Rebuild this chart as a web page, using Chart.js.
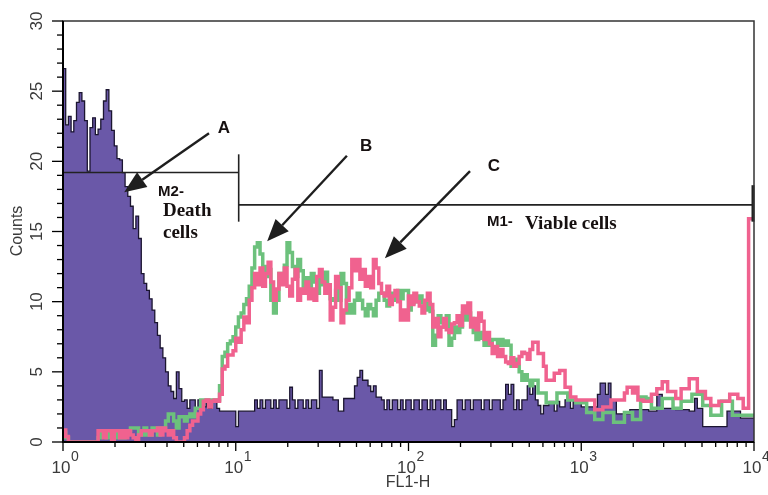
<!DOCTYPE html>
<html>
<head>
<meta charset="utf-8">
<script src="https://cdn.jsdelivr.net/npm/chart.js@4.4.1/dist/chart.umd.min.js"></script>
<style>
    html, body { margin: 0; padding: 0; background: #fff; }
    #wrap { width: 768px; height: 495px; }
</style>
</head>
<body>
<div id="wrap"><canvas id="flow-chart" width="768" height="495"></canvas></div>
<script>
// FL1-H histogram: 256 channels spread over 4 log decades
var channel_count = 256;
var x_ticks = [1, 10, 100, 1000, 10000];
var x_tick_exponents = ['0', '1', '2', '3', '4'];
var y_ticks = [0, 5, 10, 15, 20, 25, 30];

// purple filled histogram (arrow A)
var counts_a = [
    31, 26.6, 22.6, 23.2, 22.1, 22.9, 24.2, 24.9, 24.3, 22.9, 19.3, 22.4, 23.1, 21.9, 22.3, 23.0,
    24.3, 25.1, 23.6, 22.2, 21.1, 20.2, 20.1, 19.2, 18.2, 17.5, 16.8, 15.2, 16.1, 14.5, 12.0, 11.3,
    10.8, 10.2, 9.4, 8.5, 7.6, 6.7, 6.0, 5.0, 4.0, 3.6, 3.1, 5.0, 3.8, 2.9, 3.0, 2.4,
    3.0, 3.0, 2.4, 3.0, 3.0, 2.5, 3.0, 2.4, 3.0, 3.0, 2.4, 2.2, 2.2, 2.2, 2.2, 2.2,
    2.2, 1.1, 2.2, 2.2, 2.2, 2.2, 2.2, 2.2, 3.0, 2.4, 3.0, 2.4, 3.0, 3.0, 2.4, 3.0,
    2.4, 3.0, 3.0, 3.0, 2.4, 3.9, 3.0, 2.4, 3.0, 3.0, 2.4, 3.0, 2.4, 3.0, 3.0, 2.4,
    5.1, 3.2, 3.2, 3.2, 3.2, 3.0, 3.0, 2.2, 2.2, 3.1, 3.1, 3.1, 3.1, 4.0, 4.6, 5.1,
    4.4, 4.4, 4.0, 3.6, 4.0, 3.2, 3.2, 3.0, 2.3, 3.0, 2.3, 3.0, 3.0, 2.3, 3.0, 2.3,
    3.0, 3.0, 2.3, 3.0, 3.0, 2.3, 3.0, 3.0, 2.3, 3.0, 2.3, 3.0, 3.0, 2.3, 3.0, 2.3,
    2.3, 1.1, 1.6, 3.0, 3.0, 2.3, 3.0, 3.0, 2.3, 3.0, 3.0, 3.0, 2.3, 3.0, 3.0, 2.3,
    3.0, 3.0, 3.0, 2.3, 3.0, 4.1, 3.4, 4.1, 2.3, 3.0, 2.3, 3.0, 3.0, 4.0, 3.4, 4.0,
    3.0, 2.6, 2.0, 2.6, 2.6, 2.9, 2.9, 2.2, 2.9, 2.5, 2.5, 3.0, 3.0, 2.4, 3.0, 3.0,
    3.0, 2.5, 2.5, 2.5, 2.5, 2.5, 2.5, 3.4, 4.2, 4.2, 3.4, 4.2, 3.0, 3.0, 2.0, 2.0,
    2.0, 2.0, 2.0, 2.3, 2.3, 2.3, 2.3, 2.3, 2.3, 2.3, 2.2, 2.2, 2.2, 3.4, 3.4, 2.4,
    2.4, 2.4, 2.4, 2.4, 2.3, 2.3, 2.3, 2.3, 2.3, 2.2, 2.2, 3.1, 2.4, 2.4, 1.1, 1.1,
    1.1, 1.1, 1.1, 1.1, 1.1, 1.1, 1.1, 2.2, 2.2, 2.2, 2.2, 2.2, 1.7, 1.7, 1.7, 1.7
];

// green outline (arrow B)
var counts_b = [
    0.7, 0.7, 0.3, 0, 0, 0, 0, 0, 0, 0, 0, 0, 0, 0, 0.3, 0.8,
    0.8, 0.3, 0.8, 0.8, 0.3, 0.8, 0.3, 0.3, 0.8, 0.8, 1.0, 1.0, 1.0, 0.5, 0.5, 1.0,
    0.5, 0.5, 1.0, 1.0, 0.5, 1.0, 1.0, 1.5, 2.0, 2.0, 1.5, 1.0, 1.8, 1.8, 1.5, 1.8,
    2.0, 1.8, 2.4, 2.4, 3.0, 3.0, 3.0, 2.6, 3.0, 3.0, 3.0, 4.0, 6.1, 6.4, 7.0, 7.2,
    7.5, 8.2, 8.9, 9.2, 9.8, 10.2, 11.1, 12.4, 13.9, 14.2, 13.4, 12.5, 11.8, 12.3, 10.1, 9.2,
    10.1, 12.0, 11.3, 12.6, 14.2, 13.5, 12.5, 11.8, 13.0, 12.2, 11.1, 11.7, 10.6, 12.0, 11.4, 10.6,
    11.8, 11.2, 12.1, 10.8, 10.2, 10.1, 10.8, 10.1, 12.0, 11.3, 9.2, 9.8, 9.2, 10.1, 10.6, 10.1,
    9.5, 9.0, 9.8, 9.5, 9.0, 10.1, 10.6, 10.6, 10.1, 9.7, 10.6, 10.1, 10.5, 10.8, 10.2, 10.8,
    10.8, 9.4, 9.9, 10.4, 10.0, 10.4, 9.9, 9.4, 9.9, 9.3, 6.9, 7.6, 9.0, 8.5, 8.2, 9.0,
    6.9, 7.4, 8.2, 7.8, 8.2, 9.2, 8.7, 9.2, 8.8, 7.8, 7.3, 7.8, 7.4, 6.9, 7.3, 6.9,
    7.3, 7.3, 6.9, 7.3, 6.9, 7.2, 6.9, 5.4, 5.9, 5.4, 5.0, 4.4, 4.8, 4.4, 4.0, 4.4,
    4.4, 3.5, 3.5, 3.5, 2.8, 2.8, 2.8, 2.8, 3.5, 3.5, 3.5, 3.5, 3.0, 3.0, 3.0, 2.8,
    2.8, 2.8, 2.8, 2.1, 2.1, 2.1, 1.6, 1.6, 1.6, 2.1, 2.1, 2.1, 2.1, 1.4, 1.4, 1.4,
    1.4, 2.1, 2.1, 2.1, 1.6, 1.6, 1.6, 3.2, 3.2, 3.1, 3.1, 2.4, 2.4, 2.4, 2.4, 3.1,
    3.1, 3.1, 3.1, 2.4, 2.4, 2.4, 2.9, 2.9, 2.9, 2.9, 3.4, 3.4, 3.4, 3.4, 2.6, 2.6,
    2.6, 1.9, 1.9, 1.9, 1.9, 2.9, 2.9, 2.9, 2.9, 1.9, 1.9, 1.9, 1.9, 1.9, 1.9, 1.9
];

// pink outline (arrow C)
var counts_c = [
    0.85, 0.85, 0.4, 0, 0, 0, 0, 0, 0, 0, 0, 0, 0, 0, 0.8, 0.8,
    0.3, 0.8, 0.8, 0, 0.8, 0.8, 0.3, 0.8, 0.3, 0.8, 0.5, 0.3, 0, 0.5, 0.8, 0.8,
    0.8, 0.5, 0.8, 0.8, 1.0, 0.5, 1.0, 0.8, 0.5, 0.8, 0.3, 0, 0, 0, 0.3, 0.8,
    1.2, 1.5, 1.5, 2.0, 2.3, 2.9, 3.0, 2.5, 2.9, 3.0, 2.9, 3.4, 5.2, 5.4, 6.2, 6.2,
    6.5, 7.4, 7.1, 8.0, 8.9, 8.5, 10.1, 11.0, 12.0, 11.2, 12.4, 11.1, 12.0, 12.8, 11.4, 10.1,
    10.9, 12.0, 11.2, 12.4, 11.1, 10.4, 11.6, 12.3, 10.1, 10.9, 10.6, 11.4, 10.2, 10.9, 10.1, 11.8,
    12.3, 11.4, 10.6, 11.2, 8.7, 9.6, 11.8, 11.0, 8.5, 9.4, 10.1, 11.0, 13.0, 12.2, 13.0, 11.6,
    12.3, 11.1, 11.8, 11.0, 13.0, 12.4, 11.3, 10.6, 10.4, 11.1, 9.8, 10.4, 10.8, 10.0, 8.7, 9.4,
    8.7, 10.4, 9.8, 10.6, 10.0, 9.7, 9.2, 10.1, 10.6, 9.8, 8.2, 8.8, 7.5, 8.2, 8.8, 8.0,
    7.8, 8.4, 8.5, 9.0, 8.3, 9.7, 9.2, 9.9, 8.2, 8.8, 8.0, 9.2, 8.6, 7.3, 7.8, 7.0,
    6.3, 6.8, 6.1, 6.6, 6.1, 5.7, 5.6, 6.0, 5.4, 5.6, 6.1, 6.4, 6.3, 5.9, 6.6, 7.1,
    7.1, 6.3, 6.3, 5.4, 4.4, 4.4, 4.4, 4.9, 4.9, 5.1, 5.1, 3.9, 3.9, 3.2, 3.2, 3.0,
    3.0, 3.0, 3.0, 3.0, 3.0, 3.0, 2.3, 2.3, 2.3, 2.5, 2.5, 2.5, 3.0, 3.0, 3.0, 3.0,
    3.0, 3.5, 3.9, 3.9, 3.5, 3.9, 3.0, 3.0, 2.9, 2.9, 2.9, 3.4, 3.4, 3.8, 3.8, 4.3,
    4.3, 3.6, 3.6, 3.6, 3.1, 3.1, 3.8, 3.8, 3.8, 4.5, 4.5, 4.5, 3.6, 3.6, 3.6, 3.1,
    3.1, 2.6, 2.6, 2.6, 2.9, 2.9, 2.9, 2.9, 3.4, 3.4, 3.4, 3.1, 3.1, 2.4, 2.4, 15.9
];

// marker gates and labels, in data units (x = FL1-H, y = counts)
var gate_m2 = { x_from: 1, x_to: 10.4, y: 19.2, bar_top: 20.5, bar_bottom: 15.7 };
var gate_m1 = { x_from: 10.4, x_to: 10000, y: 16.9, bar_top: 18.3, bar_bottom: 15.7 };

var arrows = [
    { tail: [7.0, 22.0], tip: [2.26, 17.8] },
    { tail: [44, 20.4], tip: [15.2, 14.3] },
    { tail: [227, 19.3], tip: [73, 13.1] }
];

var labels_sans = 'bold 17px "Liberation Sans", Arial, sans-serif';
var labels_serif = 'bold 19px "Liberation Serif", "Times New Roman", serif';
var labels_small = 'bold 15px "Liberation Sans", Arial, sans-serif';

var notes = [
    { text: 'A', x: 8.55, y: 22.0, font: labels_sans, align: 'center' },
    { text: 'B', x: 56.8, y: 20.71, font: labels_sans, align: 'center' },
    { text: 'C', x: 312.6, y: 19.29, font: labels_sans, align: 'center' },
    { text: 'M2-', x: 3.55, y: 17.5, font: labels_small, align: 'left' },
    { text: 'Death', x: 3.79, y: 16.07, font: labels_serif, align: 'left' },
    { text: 'cells', x: 3.79, y: 14.57, font: labels_serif, align: 'left' },
    { text: 'M1-', x: 284.7, y: 15.36, font: labels_small, align: 'left' },
    { text: 'Viable cells', x: 472.6, y: 15.21, font: labels_serif, align: 'left' }
];

function channel_edge(i)
{
    return Math.pow(10, 4 * i / channel_count);
}

function to_steps(values)
{
    var pts = [];
    for (var i = 0; i < values.length; i++) pts.push({ x: channel_edge(i), y: values[i] });
    pts.push({ x: channel_edge(values.length), y: values[values.length - 1] });
    return pts;
}

function seg(ctx, x1, y1, x2, y2)
{
    ctx.beginPath();
    ctx.moveTo(x1, y1);
    ctx.lineTo(x2, y2);
    ctx.stroke();
}

var decorations = {
    id: 'decorations',
    afterDatasetsDraw: function (chart)
    {
        var ctx = chart.ctx;
        var a = chart.chartArea;
        var xs = chart.scales.x;
        var ys = chart.scales.y;
        var px = function (v) { return xs.getPixelForValue(v); };
        var py = function (v) { return ys.getPixelForValue(v); };
        ctx.save();

        // gates
        ctx.strokeStyle = '#222';
        ctx.lineWidth = 1.6;
        seg(ctx, px(gate_m2.x_from), py(gate_m2.y), px(gate_m2.x_to), py(gate_m2.y));
        seg(ctx, px(gate_m2.x_to), py(gate_m2.bar_top), px(gate_m2.x_to), py(gate_m2.bar_bottom));
        seg(ctx, px(gate_m1.x_from), py(gate_m1.y), px(gate_m1.x_to), py(gate_m1.y));
        ctx.lineWidth = 3;
        seg(ctx, px(gate_m1.x_to) - 1, py(gate_m1.bar_top), px(gate_m1.x_to) - 1, py(gate_m1.bar_bottom));

        // frame
        ctx.strokeStyle = '#333';
        ctx.lineWidth = 1.5;
        ctx.strokeRect(a.left, a.top, a.right - a.left, a.bottom - a.top);
        ctx.strokeStyle = '#000';
        ctx.lineWidth = 2;
        seg(ctx, a.left, a.top, a.left, a.bottom + 1);
        seg(ctx, a.left - 1, a.bottom, a.right, a.bottom);

        // y ticks, minor every count, major every 5
        ctx.lineWidth = 1.3;
        for (var v = 0; v <= 30; v++)
        {
            var len = (v % 5 === 0) ? 11 : 6;
            seg(ctx, a.left - len, py(v), a.left, py(v));
        }
        // x ticks, log minors
        for (var d = 0; d < 4; d++)
        {
            for (var m = 1; m <= 9; m++)
            {
                var xv = m * Math.pow(10, d);
                var l = (m === 1) ? 9 : 5;
                seg(ctx, px(xv), a.bottom, px(xv), a.bottom + l);
            }
        }
        seg(ctx, px(10000), a.bottom, px(10000), a.bottom + 9);

        // y tick labels, rotated
        ctx.fillStyle = '#3a3a3a';
        ctx.font = '17px "Liberation Sans", Arial, sans-serif';
        ctx.textAlign = 'center';
        ctx.textBaseline = 'middle';
        y_ticks.forEach(function (t)
        {
            ctx.save();
            ctx.translate(37, py(t));
            ctx.rotate(-Math.PI / 2);
            ctx.fillText(String(t), 0, 0);
            ctx.restore();
        });
        // y title
        ctx.save();
        ctx.translate(18, 231);
        ctx.rotate(-Math.PI / 2);
        ctx.font = '16px "Liberation Sans", Arial, sans-serif';
        ctx.fillText('Counts', 0, 0);
        ctx.restore();

        // x tick labels 10^n
        ctx.textBaseline = 'alphabetic';
        x_ticks.forEach(function (t, i)
        {
            var cx = px(t) - 2;
            ctx.font = '17px "Liberation Sans", Arial, sans-serif';
            var w = ctx.measureText('10').width;
            ctx.textAlign = 'center';
            ctx.fillText('10', cx, 473);
            ctx.font = '14px "Liberation Sans", Arial, sans-serif';
            ctx.textAlign = 'left';
            ctx.fillText(x_tick_exponents[i], cx + w / 2 + 0.5, 461);
        });
        ctx.textAlign = 'center';
        ctx.font = '16px "Liberation Sans", Arial, sans-serif';
        ctx.fillText('FL1-H', 408, 487);

        // arrows
        ctx.strokeStyle = '#1e1e1e';
        ctx.fillStyle = '#1e1e1e';
        arrows.forEach(function (ar)
        {
            var x1 = px(ar.tail[0]), y1 = py(ar.tail[1]);
            var x2 = px(ar.tip[0]), y2 = py(ar.tip[1]);
            var ang = Math.atan2(y2 - y1, x2 - x1);
            var hl = 22, hw = 9;
            var bx = x2 - hl * Math.cos(ang), by = y2 - hl * Math.sin(ang);
            ctx.lineWidth = 2.4;
            seg(ctx, x1, y1, bx, by);
            ctx.beginPath();
            ctx.moveTo(x2, y2);
            ctx.lineTo(bx + hw * Math.sin(ang), by - hw * Math.cos(ang));
            ctx.lineTo(bx - hw * Math.sin(ang), by + hw * Math.cos(ang));
            ctx.closePath();
            ctx.fill();
        });

        // annotation texts
        ctx.fillStyle = '#161010';
        ctx.textBaseline = 'alphabetic';
        notes.forEach(function (n)
        {
            ctx.font = n.font;
            ctx.textAlign = n.align;
            ctx.fillText(n.text, px(n.x), py(n.y));
        });

        ctx.restore();
    }
};

var m_chart = new Chart(document.getElementById('flow-chart'), {
    type: 'line',
    data: {
        datasets: [
            {
                label: 'C',
                data: to_steps(counts_c),
                stepped: 'after',
                borderColor: '#f0628f',
                borderWidth: 3.5,
                pointRadius: 0,
                fill: false,
                order: 0
            },
            {
                label: 'B',
                data: to_steps(counts_b),
                stepped: 'after',
                borderColor: '#6cc17c',
                borderWidth: 3.5,
                pointRadius: 0,
                fill: false,
                order: 1
            },
            {
                label: 'A',
                data: to_steps(counts_a),
                stepped: 'after',
                borderColor: '#1b1530',
                borderWidth: 1.3,
                backgroundColor: '#6a58a8',
                pointRadius: 0,
                fill: 'origin',
                order: 2
            }
        ]
    },
    options: {
        responsive: false,
        animation: false,
        events: [],
        layout: { padding: { left: 0, top: 21, right: 14, bottom: 0 } },
        plugins: {
            legend: { display: false },
            tooltip: { enabled: false }
        },
        scales: {
            x: {
                type: 'logarithmic',
                min: 1,
                max: 10000,
                grid: { display: false },
                border: { display: false },
                ticks: { display: false },
                afterFit: function (s) { s.height = 53; }
            },
            y: {
                type: 'linear',
                min: 0,
                max: 30,
                grid: { display: false },
                border: { display: false },
                ticks: { display: false },
                afterFit: function (s) { s.width = 63; }
            }
        }
    },
    plugins: [decorations]
});
</script>
</body>
</html>
